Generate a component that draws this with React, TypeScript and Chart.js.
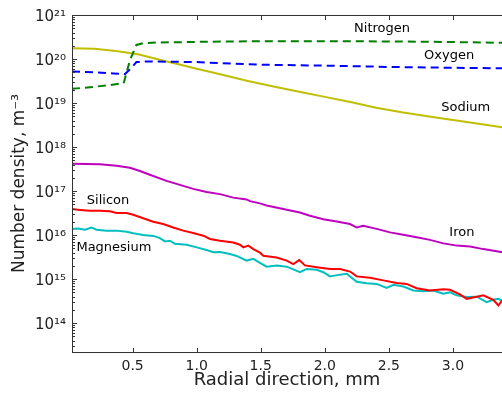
import React, { useEffect, useRef } from 'react';
import { Chart, registerables } from 'chart.js';

Chart.register(...registerables);

// ---- Data ----
const xMin = 0.027;
const xMax = 3.383;
const yMin = 2.2e13;
const yMax = 1e21;

const xTickValues = [0.5, 1.0, 1.5, 2.0, 2.5, 3.0];
const yTickValues = [1e14, 1e15, 1e16, 1e17, 1e18, 1e19, 1e20, 1e21];
const yTickLabels = ['10¹⁴', '10¹⁵', '10¹⁶', '10¹⁷', '10¹⁸', '10¹⁹', '10²⁰', '10²¹'];

const nitrogenX = [0.027, 0.1, 0.2, 0.3, 0.43, 0.48, 0.53, 0.58, 0.7, 1.0, 1.5, 2.0, 2.5, 3.0, 3.383];
const nitrogenY = [2.12e19, 2.19e19, 2.34e19, 2.51e19, 2.82e19, 9.55e19, 2.09e20, 2.29e20, 2.37e20, 2.45e20, 2.54e20, 2.54e20, 2.51e20, 2.43e20, 2.34e20];

const oxygenX = [0.027, 0.2, 0.35, 0.44, 0.49, 0.53, 0.61, 1.0, 1.5, 2.0, 2.5, 3.0, 3.383];
const oxygenY = [5.21e19, 5.01e19, 4.68e19, 4.53e19, 6.31e19, 8.51e19, 8.79e19, 8.51e19, 7.41e19, 7.08e19, 6.61e19, 6.31e19, 6.17e19];

const sodiumX = [0.027, 0.2, 0.35, 0.45, 0.55, 0.65, 0.75, 0.85, 1.0, 1.2, 1.4, 1.6, 1.8, 2.0, 2.2, 2.4, 2.6, 2.8, 3.0, 3.2, 3.383];
const sodiumY = [1.75e20, 1.70e20, 1.55e20, 1.41e20, 1.26e20, 1.07e20, 9.02e19, 7.67e19, 6.03e19, 4.37e19, 3.16e19, 2.37e19, 1.80e19, 1.38e19, 1.05e19, 7.85e18, 6.17e18, 5.01e18, 4.12e18, 3.39e18, 2.82e18];

const ironX = [0.027, 0.245, 0.375, 0.479, 0.557, 0.661, 0.765, 0.869, 0.973, 1.078, 1.182, 1.286, 1.39, 1.416, 1.494, 1.546, 1.676, 1.806, 1.884, 1.989, 2.093, 2.197, 2.249, 2.3, 2.405, 2.509, 2.613, 2.717, 2.821, 2.925, 3.03, 3.134, 3.237, 3.342, 3.383];
const ironY = [4.17e17, 4.04e17, 3.76e17, 3.39e17, 2.85e17, 2.19e17, 1.70e17, 1.38e17, 1.12e17, 9.55e16, 8.51e16, 7.08e16, 6.46e16, 5.89e16, 5.25e16, 4.68e16, 3.89e16, 3.24e16, 2.75e16, 2.29e16, 2.04e16, 1.78e16, 1.48e16, 1.62e16, 1.38e16, 1.15e16, 1.02e16, 8.91e15, 7.76e15, 6.46e15, 5.75e15, 5.50e15, 4.79e15, 4.27e15, 4.07e15];

const siliconX = [0.027, 0.089, 0.167, 0.245, 0.323, 0.375, 0.453, 0.505, 0.583, 0.661, 0.739, 0.817, 0.895, 0.973, 1.052, 1.104, 1.182, 1.286, 1.338, 1.364, 1.403, 1.442, 1.494, 1.52, 1.624, 1.703, 1.754, 1.801, 1.845, 1.937, 2.04, 2.119, 2.197, 2.249, 2.353, 2.457, 2.561, 2.639, 2.717, 2.821, 2.925, 2.977, 3.055, 3.107, 3.186, 3.237, 3.315, 3.355, 3.383];
const siliconY = [3.89e16, 3.72e16, 3.55e16, 3.55e16, 3.47e16, 3.16e16, 3.16e16, 2.88e16, 2.40e16, 2.00e16, 1.78e16, 1.48e16, 1.26e16, 1.11e16, 9.66e15, 8.13e15, 7.41e15, 6.76e15, 6.03e15, 5.25e15, 5.75e15, 4.79e15, 3.98e15, 3.39e15, 3.09e15, 2.63e15, 2.19e15, 2.69e15, 2.04e15, 1.86e15, 1.70e15, 1.70e15, 1.48e15, 1.15e15, 1.07e15, 9.33e14, 8.13e14, 7.76e14, 6.17e14, 5.50e14, 5.89e14, 5.69e14, 4.47e14, 3.55e14, 3.98e14, 4.27e14, 3.39e14, 2.51e14, 3.24e14];

const magnesiumX = [0.027, 0.076, 0.128, 0.18, 0.219, 0.297, 0.375, 0.453, 0.505, 0.583, 0.661, 0.713, 0.753, 0.791, 0.83, 0.922, 1.0, 1.078, 1.13, 1.182, 1.26, 1.312, 1.39, 1.442, 1.494, 1.546, 1.624, 1.703, 1.806, 1.859, 1.937, 1.989, 2.04, 2.119, 2.171, 2.249, 2.327, 2.405, 2.483, 2.535, 2.613, 2.691, 2.769, 2.847, 2.925, 2.977, 3.03, 3.107, 3.186, 3.264, 3.315, 3.355, 3.383];
const magnesiumY = [1.38e16, 1.41e16, 1.32e16, 1.48e16, 1.32e16, 1.26e16, 1.26e16, 1.19e16, 1.10e16, 1.00e16, 9.55e15, 8.51e15, 7.16e15, 7.41e15, 6.31e15, 6.03e15, 5.25e15, 4.57e15, 4.07e15, 4.12e15, 3.72e15, 3.35e15, 2.63e15, 2.88e15, 2.34e15, 1.91e15, 2.04e15, 1.91e15, 1.43e15, 1.70e15, 1.62e15, 1.43e15, 1.15e15, 1.26e15, 1.32e15, 8.71e14, 8.04e14, 7.76e14, 6.31e14, 7.41e14, 6.76e14, 5.50e14, 5.25e14, 5.50e14, 4.62e14, 5.01e14, 4.27e14, 3.89e14, 3.98e14, 2.99e14, 3.39e14, 3.55e14, 3.24e14];

const annotationLabels = ['Nitrogen', 'Oxygen', 'Sodium', 'Silicon', 'Iron', 'Magnesium'];
const annotationX = [2.447, 2.97, 3.10, 0.308, 3.07, 0.354];
const annotationY = [4.9e20, 1.2e20, 7.9e18, 6.0e16, 1.12e16, 5.1e15];

const FONT = '"DejaVu Sans", "Bitstream Vera Sans", sans-serif';

const toPoints = (xs: number[], ys: number[]) => xs.map((x, i) => ({ x, y: ys[i] }));

const framePlugin = {
  id: 'mplFrame',
  afterDatasetsDraw(chart: any) {
    const { ctx, chartArea } = chart;
    const { left, right, top, bottom } = chartArea;
    const xs = chart.scales.x;
    const ys = chart.scales.y;
    ctx.save();
    ctx.strokeStyle = '#333';
    ctx.lineWidth = 1;
    ctx.beginPath();
    ctx.moveTo(left + 0.5, top + 0.5);
    ctx.lineTo(left + 0.5, bottom + 0.5);
    ctx.moveTo(left, bottom + 0.5);
    ctx.lineTo(right, bottom + 0.5);
    ctx.moveTo(left, top + 0.5);
    ctx.lineTo(right, top + 0.5);
    // x major ticks (inside, top and bottom)
    xTickValues.forEach((v) => {
      const px = Math.round(xs.getPixelForValue(v)) + 0.5;
      ctx.moveTo(px, bottom);
      ctx.lineTo(px, bottom - 4);
      ctx.moveTo(px, top + 1);
      ctx.lineTo(px, top + 5);
    });
    // y major + minor ticks (inside, left)
    yTickValues.forEach((v) => {
      const py = Math.round(ys.getPixelForValue(v)) + 0.5;
      ctx.moveTo(left + 1, py);
      ctx.lineTo(left + 5, py);
    });
    [1e13, ...yTickValues].forEach((v) => {
      for (let k = 2; k <= 9; k++) {
        const val = v * k;
        if (val < yMin || val > yMax) continue;
        const py = Math.round(ys.getPixelForValue(val)) + 0.5;
        ctx.moveTo(left + 1, py);
        ctx.lineTo(left + 3, py);
      }
    });
    ctx.stroke();

    ctx.fillStyle = '#000';
    ctx.font = `13px ${FONT}`;
    ctx.textAlign = 'center';
    ctx.textBaseline = 'middle';
    annotationLabels.forEach((t, i) => {
      ctx.fillText(t, xs.getPixelForValue(annotationX[i]), ys.getPixelForValue(annotationY[i]));
    });
    ctx.restore();
  },
};

export default function App() {
  const canvasRef = useRef<HTMLCanvasElement | null>(null);

  useEffect(() => {
    const canvas = canvasRef.current;
    if (!canvas) return;
    const line = (label: string, xs: number[], ys: number[], color: string, dash: number[] = []) => ({
      label,
      data: toPoints(xs, ys),
      borderColor: color,
      backgroundColor: color,
      borderWidth: 2,
      borderDash: dash,
      pointRadius: 0,
      tension: 0,
      fill: false,
    });
    const chart = new Chart(canvas, {
      type: 'line',
      data: {
        datasets: [
          line('Nitrogen', nitrogenX, nitrogenY, '#008000', [8, 5]),
          line('Oxygen', oxygenX, oxygenY, '#0000ff', [8, 5]),
          line('Sodium', sodiumX, sodiumY, '#bfbf00'),
          line('Iron', ironX, ironY, '#bf00bf'),
          line('Silicon', siliconX, siliconY, '#ff0000'),
          line('Magnesium', magnesiumX, magnesiumY, '#00bfbf'),
        ],
      },
      options: {
        animation: false,
        responsive: true,
        maintainAspectRatio: false,
        layout: { padding: { top: 13, right: 0, left: 0, bottom: 0 } },
        plugins: { legend: { display: false }, tooltip: { enabled: false } },
        scales: {
          x: {
            type: 'linear',
            min: xMin,
            max: xMax,
            grid: { display: false, drawTicks: false },
            border: { display: false },
            afterBuildTicks: (scale: any) => {
              scale.ticks = xTickValues.map((v) => ({ value: v }));
            },
            afterFit: (scale: any) => {
              scale.height = 41;
            },
            ticks: {
              autoSkip: false,
              maxRotation: 0,
              padding: 6,
              color: '#222',
              font: { family: FONT, size: 14 },
              callback: (v: any) => Number(v).toFixed(1),
            },
            title: {
              display: true,
              text: 'Radial direction, mm',
              color: '#222',
              font: { family: FONT, size: 18 },
              padding: { top: 0, bottom: 2 },
            },
          },
          y: {
            type: 'logarithmic',
            min: yMin,
            max: yMax,
            grid: { display: false, drawTicks: false },
            border: { display: false },
            afterBuildTicks: (scale: any) => {
              scale.ticks = yTickValues.map((v) => ({ value: v, major: true }));
            },
            afterFit: (scale: any) => {
              scale.width = 72;
            },
            ticks: {
              autoSkip: false,
              padding: 6,
              labelOffset: 2,
              color: '#222',
              font: { family: FONT, size: 15 },
              callback: (_v: any, i: number) => yTickLabels[i],
            },
            title: {
              display: true,
              text: 'Number density, m⁻³',
              color: '#222',
              font: { family: FONT, size: 17 },
              padding: { top: 9, bottom: 0 },
            },
          },
        },
      },
      plugins: [framePlugin],
    } as any);
    return () => chart.destroy();
  }, []);

  return (
    <div style={{ position: 'absolute', left: 0, top: 0, width: 502, height: 393, background: '#fff' }}>
      <canvas ref={canvasRef} />
    </div>
  );
}
